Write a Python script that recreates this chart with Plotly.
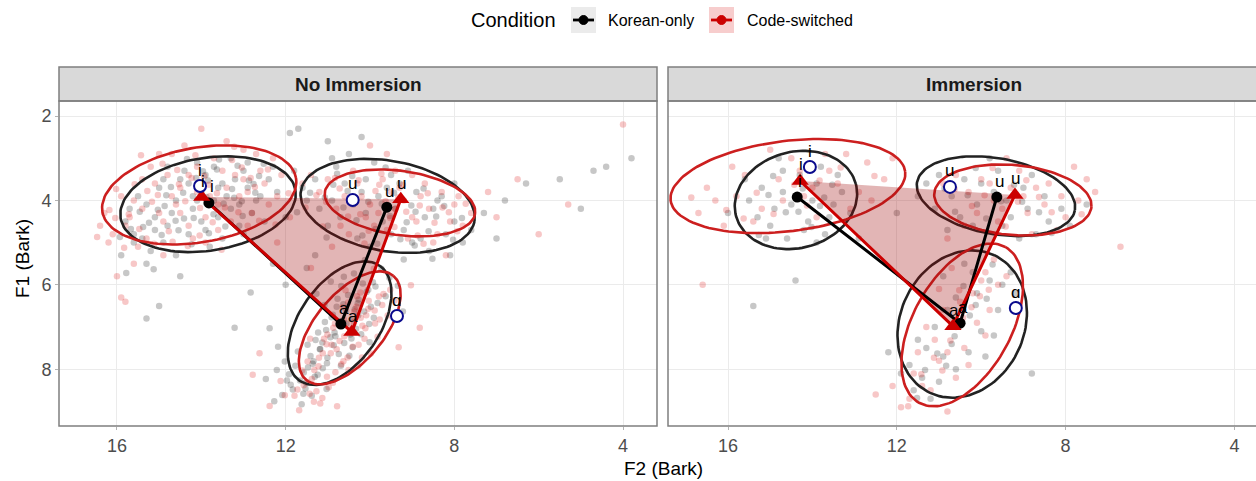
import math
import plotly.graph_objects as go

# ---------------- data ----------------
PANELS = ["No Immersion", "Immersion"]
CONDITIONS = ["Korean-only", "Code-switched"]
X_TICKS = [16, 12, 8, 4]
Y_TICKS = [2, 4, 6, 8]
MEAN_LABELS = ["i", "u", "a"]
REF_LABELS = ["i", "u", "ɑ"]

# individual tokens (F2, F1)
NI_KO_PTS = [
    (14.2,3.9),(13.5,3.6),(15.1,4.4),(12.9,3.7),(14.8,4.6),(13.3,4.2),(14.5,3.5),(15.6,4.8),(13.0,3.3),(14.0,4.5),
    (12.6,3.9),(15.3,4.1),(13.7,3.2),(14.6,4.0),(13.1,4.6),(15.8,4.5),(12.4,3.5),(14.3,4.8),(13.9,3.4),(15.0,3.7),
    (12.8,4.3),(14.9,5.0),(13.4,3.9),(15.4,4.9),(13.6,4.4),(14.1,3.1),(12.3,3.2),(15.7,4.2),(13.2,3.5),(14.7,4.3),
    (13.8,5.1),(12.7,4.0),(15.2,5.2),(14.4,3.3),(13.0,4.8),(15.9,5.3),(12.5,4.5),(14.0,3.8),(13.5,4.9),(15.5,3.9),
    (14.2,4.2),(12.2,3.8),(14.8,3.2),(13.3,3.0),(15.1,4.7),(14.6,5.3),(13.7,4.0),(12.9,3.1),(15.3,5.5),(14.3,3.6),
    (13.9,4.7),(15.0,6.5),(15.3,6.8),(14.5,5.8),(12.0,4.4),(14.9,3.5),(13.6,3.7),(13.1,4.1),(15.6,5.0),(14.1,4.0),
    (13.84,3.53),(14.43,3.82),(13.22,3.94),(14.87,4.13),(13.63,3.27),(14.18,4.42),(12.76,3.61),(15.24,4.53),(13.47,4.08),(14.72,3.68),
    (13.04,4.02),(13.96,3.31),(15.38,4.63),(13.27,3.73),(14.54,4.71),(12.63,3.42),(14.12,3.47),(15.03,4.22),(13.71,4.33),(14.34,3.02),
    (12.87,3.53),(15.67,4.68),(13.43,4.62),(14.83,3.88),(13.14,3.18),(14.61,4.48),(15.93,4.87),(13.88,3.92),(12.52,3.13),(15.46,4.27),
    (14.23,5.04),(13.02,4.37),(14.94,4.82),(13.58,3.03),(15.13,5.63),(12.72,3.82),(14.41,4.43),(15.78,5.72),(13.82,4.78),(14.03,3.71),
    (9.8,3.9),(10.6,3.6),(8.7,4.4),(9.2,4.7),(10.1,4.3),(11.3,3.5),(8.2,4.8),(9.5,3.4),(10.9,4.0),(8.9,3.8),
    (10.3,4.9),(9.0,5.0),(11.6,3.7),(8.5,4.2),(9.7,4.5),(10.8,3.2),(8.0,4.5),(9.3,3.6),(10.4,4.1),(11.0,4.6),
    (8.6,5.2),(9.9,3.1),(10.2,3.8),(7.8,5.0),(9.4,4.2),(11.8,3.3),(8.3,3.9),(10.7,4.4),(9.1,3.3),(10.0,5.1),
    (8.8,4.9),(11.2,4.2),(7.6,4.7),(9.6,3.7),(10.5,2.9),(8.4,4.0),(9.2,5.4),(11.5,4.0),(8.1,5.3),(10.1,3.5),
    (4.7,3.3),(5.5,3.5),(3.8,3.0),(4.4,3.2),(6.3,3.6),(5.0,4.2),(6.8,4.0),(11.9,2.4),(11.7,2.3),(11.0,2.6),
    (10.2,2.5),(11.5,5.6),(12.0,6.0),(11.3,5.3),(7.3,4.3),(7.0,4.9),(8.0,3.6),(9.5,4.8),(10.9,3.0),(12.3,5.5),
    (9.43,3.82),(10.04,4.03),(8.92,4.27),(10.53,3.78),(9.13,4.52),(10.87,3.63),(8.61,4.73),(9.72,4.08),(10.32,4.47),(8.43,4.38),
    (11.07,3.93),(9.28,4.92),(10.63,4.17),(8.73,3.72),(9.87,4.68),(11.42,3.82),(8.24,4.13),(9.63,3.22),(10.18,4.83),(8.94,5.07),
    (10.78,3.37),(9.02,4.12),(11.73,4.28),(8.03,4.93),(9.53,4.37),(10.42,3.42),(8.52,5.38),(9.83,5.03),(11.03,4.88),(7.82,4.42),
    (10.73,6.88),(11.18,7.52),(10.27,6.35),(11.04,7.07),(10.43,6.81),(11.47,7.96),(9.93,5.94),(10.86,7.43),(10.52,6.24),(11.29,7.31),
    (10.14,6.63),(11.66,8.27),(10.61,7.38),(10.04,6.12),(11.12,7.98),(10.33,7.04),(11.41,7.69),(9.82,6.43),(10.79,6.52),(11.58,8.58),
    (10.38,5.73),(11.02,7.86),(10.21,7.17),(11.88,8.37),(10.68,6.03),(11.31,8.18),(9.73,5.62),(10.91,6.77),(10.49,7.68),(11.77,7.92),
    (10.02,6.93),(11.23,7.13),(10.57,6.61),(12.08,8.61),(9.54,5.83),(11.48,7.42),(10.29,6.44),(11.03,8.47),(10.82,7.22),(12.27,8.76),
    (9.91,6.78),(11.38,8.63),(10.12,5.41),(11.71,7.58),(12.02,7.82),(11.62,8.83),(9.63,6.27),(10.93,5.92),(11.92,8.12),(10.41,7.48),
    (12.47,8.23),(9.34,6.02),(11.08,6.48),(12.18,7.47),(10.01,7.36),(9.22,6.63),(11.27,6.21),(12.38,7.03),(13.21,7.02),(12.83,6.18),
    (10.84,7.13),(11.13,7.37),(10.36,6.58),(10.94,7.24),(10.56,6.92),(11.36,7.87),(10.08,6.17),(11.01,7.73),(10.63,6.46),(11.19,7.53),
    (10.28,6.72),(11.57,8.08),(10.74,7.64),(10.17,5.97),(11.34,7.81),(10.47,7.18),(11.52,8.32),(9.98,6.52),(10.88,6.71),(11.83,8.48),
    (10.62,5.81),(11.24,8.13),(10.44,7.27),(11.97,8.27),(10.77,6.33),(11.53,8.46),(9.87,6.04),(11.07,6.88),(10.69,7.92),(12.21,8.02),
]
NI_CS_PTS = [
    (14.5,3.7),(13.2,3.4),(15.4,4.2),(12.6,3.3),(14.9,4.5),(13.6,4.1),(15.8,4.6),(14.1,3.2),(12.9,3.8),(15.1,3.6),
    (13.9,4.4),(16.1,4.8),(12.3,3.0),(14.7,2.9),(13.4,3.7),(15.6,4.0),(14.3,4.6),(12.8,4.3),(16.0,5.8),(15.9,6.3),
    (15.8,6.4),(13.0,2.8),(14.6,4.1),(15.3,4.9),(13.7,3.0),(14.0,3.6),(12.5,3.6),(15.0,4.3),(13.3,4.5),(16.3,4.3),
    (14.4,2.7),(12.1,3.4),(15.5,5.1),(13.8,3.9),(14.8,3.4),(13.1,3.9),(15.7,4.4),(14.2,4.9),(12.7,2.9),(16.2,5.0),
    (13.5,3.3),(14.9,5.3),(12.4,4.1),(15.2,3.2),(13.9,5.0),(14.5,4.3),(15.6,5.5),(13.0,3.5),(16.4,4.6),(14.1,3.8),
    (12.2,3.9),(15.0,2.9),(13.6,4.7),(14.7,3.9),(15.4,3.5),(12.9,4.6),(14.3,3.4),(13.4,2.6),(14.0,2.3),(15.9,3.9),
    (14.23,3.47),(13.04,3.22),(15.17,4.03),(13.82,3.63),(14.57,3.28),(12.73,3.68),(15.72,4.33),(14.03,4.18),(13.27,3.04),(15.03,3.87),
    (14.38,4.02),(12.42,3.27),(16.04,4.42),(13.63,3.83),(14.77,4.73),(13.12,4.28),(15.47,4.68),(14.14,2.93),(12.83,3.47),(15.28,3.78),
    (13.73,4.52),(16.18,4.23),(14.53,3.62),(13.44,4.17),(15.83,5.12),(12.63,4.48),(14.92,3.13),(13.93,3.42),(15.12,5.03),(16.47,4.87),
    (11.93,3.83),(14.32,5.08),(13.22,2.73),(15.58,3.62),(12.24,4.57),(14.68,4.98),(16.02,3.73),(13.52,5.17),(15.43,2.93),(14.04,4.83),
    (9.5,3.8),(10.3,3.6),(8.6,4.2),(9.0,4.4),(10.0,4.1),(11.0,3.5),(8.1,4.5),(9.7,3.5),(10.6,3.9),(8.8,3.9),
    (9.9,4.6),(8.4,4.8),(11.2,3.8),(9.2,4.0),(10.1,4.4),(8.0,4.1),(9.4,3.3),(10.8,4.2),(8.7,3.6),(9.6,4.7),
    (7.8,4.6),(10.4,3.3),(9.1,4.9),(11.4,3.4),(8.3,3.8),(10.7,4.6),(9.8,4.3),(7.6,4.3),(8.9,4.5),(10.2,3.9),
    (9.3,3.7),(11.6,3.6),(8.5,5.0),(10.5,4.8),(7.9,3.9),(9.0,3.4),(4.0,2.2),(5.3,4.1),(6.0,4.8),(7.2,3.8),
    (7.0,4.4),(6.5,3.5),(11.9,4.4),(10.9,5.1),(12.2,5.0),(11.4,5.6),(9.6,2.9),(10.0,2.7),(8.2,5.3),(9.4,4.2),
    (9.33,3.93),(9.87,3.78),(8.82,4.12),(10.43,4.03),(9.14,4.27),(10.72,3.72),(8.47,4.53),(9.63,4.02),(10.23,4.33),(8.28,4.17),
    (11.04,4.03),(9.42,4.63),(10.52,4.38),(8.63,3.83),(9.78,3.63),(11.27,3.88),(8.13,4.28),(9.73,3.37),(10.03,4.72),(8.87,4.83),
    (10.83,3.47),(9.22,3.63),(11.53,4.17),(7.93,4.73),(9.52,4.42),(10.27,3.52),(8.73,5.03),(10.13,5.02),(7.73,4.08),(11.12,4.62),
    (10.47,7.08),(10.93,7.62),(10.04,6.57),(10.72,7.33),(10.18,6.97),(11.22,7.93),(9.79,6.28),(10.63,7.81),(10.32,6.52),(11.01,7.18),
    (9.88,6.92),(11.38,8.23),(10.41,7.47),(9.71,6.48),(10.82,8.07),(10.13,7.28),(11.12,7.62),(9.58,6.73),(10.62,6.83),(11.27,8.52),
    (10.23,6.18),(10.88,8.32),(9.98,7.63),(11.57,8.38),(10.52,6.42),(11.13,8.68),(9.52,6.12),(10.73,6.93),(10.28,7.92),(11.48,7.82),
    (9.82,7.23),(11.03,7.41),(10.38,6.88),(11.79,8.63),(9.42,6.37),(11.18,8.81),(10.09,6.72),(10.78,8.88),(11.42,7.28),(12.02,8.62),
    (12.38,8.87),(12.12,8.28),(9.32,7.48),(12.78,8.13),(8.82,7.02),(9.03,6.01),(12.62,7.62),(11.68,8.97),(10.58,6.13),(9.91,5.62),
    (10.61,7.22),(10.79,7.53),(10.22,6.78),(10.91,7.42),(10.43,7.13),(11.32,8.02),(10.03,6.38),(10.68,7.88),(10.37,6.63),(11.09,7.28),
    (10.11,7.03),(11.48,8.31),(10.53,7.72),(9.89,6.61),(11.02,8.18),(10.27,7.42),(11.21,7.73),(9.77,6.82),(10.83,6.92),(11.43,8.58),
    (10.31,6.27),(10.98,8.43),(10.19,7.72),(11.72,8.48),(10.64,6.53),(11.33,8.77),(9.68,6.22),(10.87,7.02),(10.51,8.02),(11.61,8.03),
]
IM_KO_PTS = [
    (14.4,3.9),(13.9,3.6),(14.9,4.2),(13.5,4.1),(15.2,3.7),(14.1,4.5),(14.7,3.3),(13.7,4.8),(15.0,4.6),(14.3,3.4),
    (13.3,3.8),(15.5,4.0),(14.6,4.9),(13.8,3.2),(14.0,4.0),(15.3,4.4),(13.6,4.4),(14.8,3.0),(14.2,4.7),(13.1,4.3),
    (15.6,3.5),(14.5,4.1),(13.4,3.4),(15.1,4.9),(13.9,5.0),(14.7,3.8),(16.0,4.3),(12.9,4.9),(15.4,6.5),(14.4,5.9),
    (14.23,3.72),(14.63,4.28),(13.82,4.13),(15.04,3.87),(14.02,4.63),(14.93,3.42),(13.53,3.63),(14.33,4.27),(15.27,4.82),(13.72,3.93),
    (9.7,3.8),(10.4,3.5),(8.9,4.2),(9.3,4.4),(10.1,4.1),(11.0,3.4),(8.4,4.5),(9.6,3.3),(10.7,3.9),(9.0,3.7),
    (10.2,4.6),(8.7,4.8),(11.3,3.6),(9.4,4.0),(8.1,4.2),(10.5,4.4),(9.8,3.0),(11.5,3.9),(8.5,3.9),(10.8,4.7),
    (9.1,4.9),(7.9,4.6),(10.0,3.6),(11.1,4.2),(8.8,3.4),(9.5,4.6),(12.0,4.3),(7.5,4.1),
    (9.53,4.02),(10.32,3.88),(9.03,4.03),(10.62,4.27),(9.88,4.43),(8.63,4.28),(10.87,3.72),(9.22,3.63),(10.13,3.23),(8.33,4.77),
    (10.5,6.9),(10.9,7.7),(10.1,6.2),(11.1,7.0),(10.0,7.1),(11.4,8.2),(9.8,5.9),(10.7,7.4),(10.6,6.3),(11.3,7.5),
    (9.6,6.6),(11.6,8.5),(10.3,7.6),(10.2,5.7),(11.0,8.3),(9.9,7.7),(11.5,7.3),(9.5,6.0),(10.8,6.6),(11.2,8.7),
    (10.4,5.5),(11.7,7.9),(9.7,7.2),(10.6,8.0),(9.2,6.2),(11.9,8.1),(10.9,5.8),(12.2,7.6),(9.3,5.7),(8.8,8.1),
    (10.63,7.22),(10.27,6.73),(11.04,7.63),(10.13,6.48),(11.33,8.02),(9.87,6.33),(10.83,7.92),(10.42,6.03),(11.52,8.68),(9.73,5.52),
]
IM_CS_PTS = [
    (14.8,3.5),(13.6,3.3),(15.8,3.9),(12.7,3.1),(15.2,4.2),(14.2,3.9),(16.3,4.0),(13.2,2.9),(14.5,3.0),(15.6,3.4),
    (12.3,3.5),(16.7,4.3),(13.9,4.4),(15.0,2.8),(14.0,3.7),(16.1,4.6),(12.9,3.8),(15.4,4.5),(13.4,3.6),(16.5,3.7),
    (14.7,4.0),(12.1,3.0),(13.1,4.2),(15.9,3.2),(14.3,3.3),(16.6,6.0),(12.6,4.0),(13.7,2.9),
    (14.43,3.63),(15.32,3.82),(13.83,3.53),(16.04,4.23),(14.92,4.32),(13.33,3.22),(15.63,4.43),(14.13,4.12),(16.87,3.93),(12.53,3.42),
    (9.3,3.7),(10.0,3.5),(8.5,4.1),(8.9,4.3),(9.7,4.0),(10.6,3.4),(8.0,4.4),(9.1,3.3),(10.3,3.8),(8.7,3.7),
    (9.6,4.5),(8.2,4.7),(10.9,3.6),(9.0,3.9),(7.7,4.0),(10.1,4.3),(9.4,3.0),(7.5,3.5),(8.4,3.6),(10.4,4.6),
    (8.8,4.8),(7.8,3.2),(9.8,3.6),(6.7,5.1),(8.1,3.9),(9.5,4.2),(7.3,3.8),(10.8,4.9),
    (9.13,4.03),(9.92,3.88),(8.63,3.92),(10.22,4.13),(9.42,4.62),(8.33,4.28),(10.63,3.73),(8.93,3.52),(7.62,4.33),(9.73,3.23),
    (10.6,7.0),(11.0,7.8),(10.2,6.2),(11.1,7.3),(10.1,6.9),(11.4,8.4),(9.9,5.7),(10.8,7.6),(10.5,6.4),(11.3,7.0),
    (9.8,6.6),(11.7,8.7),(10.4,7.5),(10.0,5.9),(11.2,8.5),(10.3,7.9),(11.5,7.6),(9.6,6.0),(10.9,6.6),(11.9,8.9),
    (10.7,5.6),(11.6,8.1),(9.9,7.2),(10.6,8.2),(9.4,5.8),(12.1,8.4),(10.8,9.0),(12.5,8.6),(9.7,5.4),(11.0,6.1),
    (10.73,7.32),(10.43,6.78),(11.12,7.73),(10.23,6.53),(11.42,8.12),(10.03,6.27),(10.92,8.03),(10.52,6.13),(11.73,8.88),(9.82,6.12),
]

# vowel means (order i, u, a)
NI_KO_MEAN_X = [13.82, 9.60, 10.69]
NI_KO_MEAN_Y = [4.06, 4.16, 6.93]
NI_CS_MEAN_X = [13.99, 9.27, 10.43]
NI_CS_MEAN_Y = [3.92, 3.97, 7.12]
NI_REF_X = [14.03, 10.41, 9.36]
NI_REF_Y = [3.66, 3.99, 6.74]
IM_KO_MEAN_X = [14.36, 9.63, 10.50]
IM_KO_MEAN_Y = [3.92, 3.92, 6.91]
IM_CS_MEAN_X = [14.29, 9.20, 10.67]
IM_CS_MEAN_Y = [3.54, 3.87, 6.98]
IM_REF_X = [14.06, 10.74, 9.18]
IM_REF_Y = [3.21, 3.68, 6.55]

# 95% ellipses: centre x, centre y, semi-major, semi-minor, on-screen tilt (deg), order i, u, a
NI_KO_ELL = [(13.84, 4.09, 2.10, 1.10, 9), (9.58, 4.13, 2.09, 1.07, -10), (10.72, 6.91, 1.66, 0.95, 55)]
NI_CS_ELL = [(14.05, 3.87, 2.33, 1.12, 10), (9.29, 4.06, 1.80, 0.76, -8), (10.48, 7.02, 1.61, 0.81, 50)]
IM_KO_ELL = [(14.39, 3.99, 1.47, 1.14, 15), (9.65, 3.90, 1.90, 0.90, -10), (10.45, 6.93, 1.80, 1.47, 65)]
IM_CS_ELL = [(14.58, 3.66, 2.80, 1.07, 7), (9.25, 3.99, 1.87, 0.83, -5), (10.45, 6.95, 2.11, 1.16, 61)]

# ---------------- styling ----------------
W, H = 1256, 481
FONT = "Liberation Sans, Arial, sans-serif"
BLACK = "#000000"
RED = "#cc0000"
ELL_BLACK = "#222222"
ELL_RED = "#cc1f1f"
NAVY = "#0a0a8c"

def px(x):
    return x / W

def py(y):
    return 1 - y / H

def ellipse(cx, cy, a, b, ang, n=120):
    t = [2 * math.pi * k / n for k in range(n + 1)]
    r = math.radians(ang)
    xs, ys = [], []
    for tt in t:
        dx = a * math.cos(tt) * math.cos(r) - b * math.sin(tt) * math.sin(r)
        dy = a * math.cos(tt) * math.sin(r) + b * math.sin(tt) * math.cos(r)
        # reversed axes: screen-right is smaller F2, screen-up is smaller F1
        xs.append(cx - dx)
        ys.append(cy - dy)
    return xs, ys

fig = go.Figure()

panel_data = [
    (NI_KO_PTS, NI_CS_PTS, NI_KO_MEAN_X, NI_KO_MEAN_Y, NI_CS_MEAN_X, NI_CS_MEAN_Y,
     NI_REF_X, NI_REF_Y, NI_KO_ELL, NI_CS_ELL),
    (IM_KO_PTS, IM_CS_PTS, IM_KO_MEAN_X, IM_KO_MEAN_Y, IM_CS_MEAN_X, IM_CS_MEAN_Y,
     IM_REF_X, IM_REF_Y, IM_KO_ELL, IM_CS_ELL),
]

annotations = []
for p, (kp, cp, kmx, kmy, cmx, cmy, rx, ry, kell, cell) in enumerate(panel_data):
    xa = "x" if p == 0 else "x2"
    ya = "y" if p == 0 else "y2"
    # tokens
    fig.add_trace(go.Scatter(x=[q[0] for q in kp], y=[q[1] for q in kp], mode="markers",
                             marker=dict(size=6.5, color="rgba(0,0,0,0.22)"),
                             xaxis=xa, yaxis=ya, showlegend=False, hoverinfo="skip"))
    fig.add_trace(go.Scatter(x=[q[0] for q in cp], y=[q[1] for q in cp], mode="markers",
                             marker=dict(size=6.5, color="rgba(220,0,0,0.22)"),
                             xaxis=xa, yaxis=ya, showlegend=False, hoverinfo="skip"))
    # ellipses
    for e in kell:
        ex, ey = ellipse(*e)
        fig.add_trace(go.Scatter(x=ex, y=ey, mode="lines", line=dict(color=ELL_BLACK, width=2.6),
                                 xaxis=xa, yaxis=ya, showlegend=False, hoverinfo="skip"))
    for e in cell:
        ex, ey = ellipse(*e)
        fig.add_trace(go.Scatter(x=ex, y=ey, mode="lines", line=dict(color=ELL_RED, width=2.6),
                                 xaxis=xa, yaxis=ya, showlegend=False, hoverinfo="skip"))
    # vowel triangle (code-switched)
    fig.add_trace(go.Scatter(x=[cmx[0], cmx[1], cmx[2], cmx[0]], y=[cmy[0], cmy[1], cmy[2], cmy[0]],
                             mode="lines", fill="toself", fillcolor="rgba(160,10,10,0.3)",
                             line=dict(width=0, color="rgba(0,0,0,0)"),
                             xaxis=xa, yaxis=ya, showlegend=False, hoverinfo="skip"))
    # connecting lines i -> a -> u
    order = [0, 2, 1]
    fig.add_trace(go.Scatter(x=[kmx[k] for k in order], y=[kmy[k] for k in order], mode="lines",
                             line=dict(color=BLACK, width=3), xaxis=xa, yaxis=ya,
                             showlegend=False, hoverinfo="skip"))
    fig.add_trace(go.Scatter(x=[cmx[k] for k in order], y=[cmy[k] for k in order], mode="lines",
                             line=dict(color=RED, width=3), xaxis=xa, yaxis=ya,
                             showlegend=False, hoverinfo="skip"))
    # means
    fig.add_trace(go.Scatter(x=kmx, y=kmy, mode="markers", marker=dict(size=11, color=BLACK),
                             xaxis=xa, yaxis=ya, showlegend=False, hoverinfo="skip"))
    fig.add_trace(go.Scatter(x=cmx, y=cmy, mode="markers",
                             marker=dict(size=15, color=RED, symbol="triangle-up"),
                             xaxis=xa, yaxis=ya, showlegend=False, hoverinfo="skip"))
    # reference values
    fig.add_trace(go.Scatter(x=rx, y=ry, mode="markers",
                             marker=dict(size=12, color="rgba(255,255,255,1)",
                                         line=dict(color=NAVY, width=2)),
                             xaxis=xa, yaxis=ya, showlegend=False, hoverinfo="skip"))
    # labels
    for lx, ly, labs, dx in ((kmx, kmy, MEAN_LABELS, 3), (cmx, cmy, MEAN_LABELS, 1), (rx, ry, REF_LABELS, 0)):
        for k in range(3):
            annotations.append(dict(x=lx[k], y=ly[k], xref=xa, yref=ya, text=labs[k], showarrow=False,
                                    yshift=16, xshift=dx, font=dict(family=FONT, size=17, color="#000000")))

# panel frames, strips
shapes = []
x_doms = [(59, 657), (668, 1280)]
for p, (x0, x1) in enumerate(x_doms):
    shapes.append(dict(type="rect", xref="paper", yref="paper", x0=px(x0), x1=px(x1),
                       y0=py(101), y1=py(67), fillcolor="#d9d9d9", line=dict(color="#7f7f7f", width=1.5),
                       layer="above"))
    shapes.append(dict(type="rect", xref="paper", yref="paper", x0=px(x0), x1=px(x1),
                       y0=py(426), y1=py(101), fillcolor="rgba(0,0,0,0)",
                       line=dict(color="#7f7f7f", width=1.5), layer="above"))
    cx = (x0 + min(x1, W + 24)) / 2 if p == 1 else (x0 + x1) / 2
    annotations.append(dict(x=px(cx), y=py(84), xref="paper", yref="paper", text="<b>%s</b>" % PANELS[p],
                            showarrow=False, xanchor="center", yanchor="middle",
                            font=dict(family="Liberation Sans Narrow, Liberation Sans, Arial", size=19,
                                      color="#1a1a1a")))

# legend (drawn manually)
key_cols = [(BLACK, "#ebebeb", 571), (RED, "#f7cdcd", 709)]
for (col, bg, kx) in key_cols:
    shapes.append(dict(type="rect", xref="paper", yref="paper", x0=px(kx), x1=px(kx + 25),
                       y0=py(33), y1=py(7), fillcolor=bg, line=dict(width=0)))
    shapes.append(dict(type="line", xref="paper", yref="paper", x0=px(kx + 2), x1=px(kx + 23),
                       y0=py(20), y1=py(20), line=dict(color=col, width=2.8)))
    shapes.append(dict(type="circle", xref="paper", yref="paper", x0=px(kx + 8), x1=px(kx + 17),
                       y0=py(24.5), y1=py(15.5), fillcolor=col, line=dict(color=col, width=1)))
annotations.append(dict(x=px(469), y=py(20), xref="paper", yref="paper", text="Condition", showarrow=False,
                        xanchor="left", yanchor="middle", font=dict(family=FONT, size=20, color="#000000")))
annotations.append(dict(x=px(606), y=py(20), xref="paper", yref="paper", text=CONDITIONS[0], showarrow=False,
                        xanchor="left", yanchor="middle", font=dict(family=FONT, size=16, color="#000000")))
annotations.append(dict(x=px(745), y=py(20), xref="paper", yref="paper", text=CONDITIONS[1], showarrow=False,
                        xanchor="left", yanchor="middle", font=dict(family=FONT, size=16, color="#000000")))

# axis titles
annotations.append(dict(x=px(663), y=py(468), xref="paper", yref="paper", text="F2 (Bark)", showarrow=False,
                        xanchor="center", yanchor="middle", font=dict(family=FONT, size=19, color="#000000")))
annotations.append(dict(x=px(22), y=py(259), xref="paper", yref="paper", text="F1 (Bark)", showarrow=False,
                        textangle=-90, xanchor="center", yanchor="middle",
                        font=dict(family=FONT, size=19, color="#000000")))

PXU = 42.2
axis_common = dict(showgrid=True, gridcolor="#ebebeb", gridwidth=1.2, zeroline=False, showline=False,
                   ticks="outside", ticklen=3, tickcolor="#b3b3b3",
                   tickfont=dict(family=FONT, size=18, color="#4d4d4d"))
fig.update_layout(
    width=W, height=H, margin=dict(l=0, r=0, t=0, b=0),
    paper_bgcolor="white", plot_bgcolor="white", showlegend=False,
    xaxis=dict(domain=[px(59), px(657)], range=[16 + 58 / PXU, 4 - 34 / PXU], tickvals=X_TICKS,
               anchor="y", **axis_common),
    xaxis2=dict(domain=[px(668), 1.0], range=[16 + 60 / PXU, 16 + 60 / PXU - 588 / PXU], tickvals=X_TICKS,
                anchor="y2", **axis_common),
    yaxis=dict(domain=[py(426), py(101)], range=[2 + 310 / PXU, 2 - 15 / PXU], tickvals=Y_TICKS,
               anchor="x", **axis_common),
    yaxis2=dict(domain=[py(426), py(101)], range=[2 + 310 / PXU, 2 - 15 / PXU], tickvals=Y_TICKS,
                anchor="x2", showticklabels=False, **{k: v for k, v in axis_common.items() if k != "ticks"},
                ticks=""),
    shapes=shapes, annotations=annotations,
)

fig.write_html("out.html", config={"displayModeBar": False},
               post_script="document.body.style.margin='0';document.body.style.overflow='hidden';")
